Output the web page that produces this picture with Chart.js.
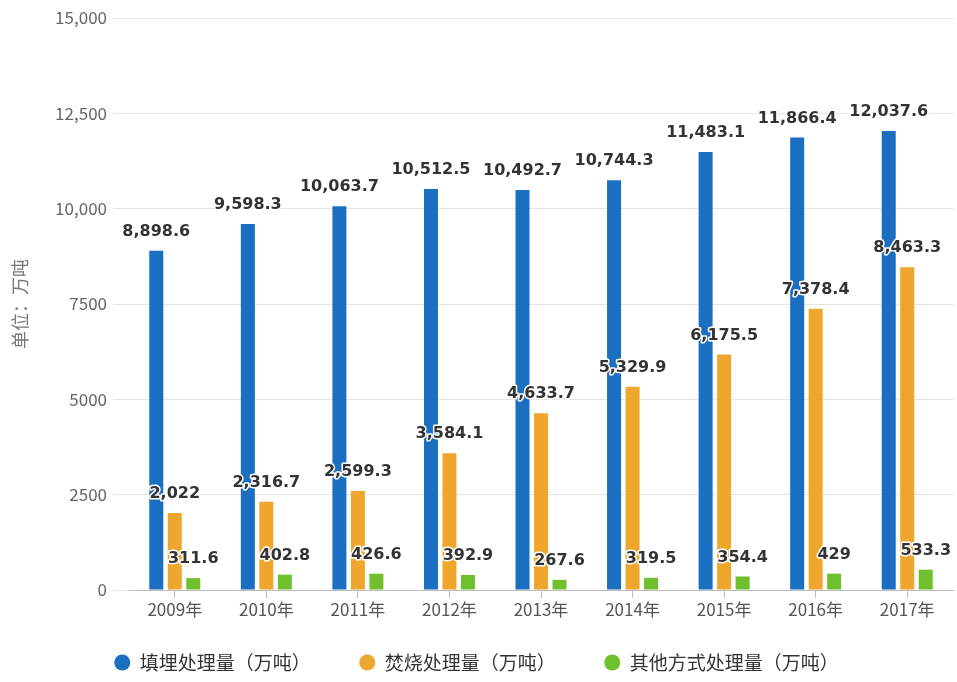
<!DOCTYPE html>
<html>
<head>
<meta charset="utf-8">
<script src="https://cdn.jsdelivr.net/npm/chart.js@4"></script>
<style>
  html, body { margin: 0; padding: 0; background: #fff; }
  #wrap { width: 957px; height: 682px; }
</style>
</head>
<body>
<div id="wrap"><canvas id="chart"></canvas></div>
<script>
// Data
const years = ['2009年', '2010年', '2011年', '2012年', '2013年', '2014年', '2015年', '2016年', '2017年'];
const landfill = [8898.6, 9598.3, 10063.7, 10512.5, 10492.7, 10744.3, 11483.1, 11866.4, 12037.6];
const incineration = [2022, 2316.7, 2599.3, 3584.1, 4633.7, 5329.9, 6175.5, 7378.4, 8463.3];
const otherWays = [311.6, 402.8, 426.6, 392.9, 267.6, 319.5, 354.4, 429, 533.3];
const seriesNames = ['填埋处理量（万吨）', '焚烧处理量（万吨）', '其他方式处理量（万吨）'];
const yTicks = [0, 2500, 5000, 7500, 10000, 12500, 15000];

const CJK = '"Noto Sans CJK SC", "Noto Sans", sans-serif';

// value labels above every bar, dark text with a white outline
const barLabels = {
    id: 'barLabels',
    afterDatasetsDraw(chart) {
        const ctx = chart.ctx;
        ctx.save();
        ctx.font = 'bold 16px "DejaVu Sans", Verdana, sans-serif';
        ctx.textAlign = 'center';
        ctx.textBaseline = 'middle';
        ctx.lineJoin = 'round';
        chart.data.datasets.forEach((ds, i) => {
            chart.getDatasetMeta(i).data.forEach((bar, j) => {
                const txt = ds.data[j].toLocaleString('en-US', { maximumFractionDigits: 1 });
                const y = bar.y - 19;
                ctx.strokeStyle = '#ffffff';
                ctx.lineWidth = 3;
                ctx.strokeText(txt, bar.x, y);
                ctx.fillStyle = '#333333';
                ctx.fillText(txt, bar.x, y);
            });
        });
        ctx.restore();
    }
};

new Chart(document.getElementById('chart'), {
    type: 'bar',
    data: {
        labels: years,
        datasets: [
            { label: seriesNames[0], data: landfill, backgroundColor: '#1b6fc0' },
            { label: seriesNames[1], data: incineration, backgroundColor: '#efa62d' },
            { label: seriesNames[2], data: otherWays, backgroundColor: '#70bf2d' }
        ]
    },
    options: {
        responsive: true,
        maintainAspectRatio: false,
        animation: false,
        layout: { padding: { top: 18, right: 4, bottom: 0, left: 0 } },
        datasets: {
            bar: { categoryPercentage: 0.606, barPercentage: 0.757, borderWidth: 0 }
        },
        plugins: {
            tooltip: { enabled: false },
            legend: {
                position: 'bottom',
                labels: {
                    usePointStyle: true,
                    pointStyle: 'circle',
                    boxHeight: 11.3,
                    pointStyleWidth: 16,
                    padding: 20,
                    color: '#333333',
                    font: { size: 19, family: CJK },
                    generateLabels(chart) {
                        const items = Chart.defaults.plugins.legend.labels.generateLabels(chart);
                        items.forEach((it, i) => {
                            if (i < items.length - 1) it.text += '\u3000\u3000';
                        });
                        return items;
                    }
                }
            }
        },
        scales: {
            x: {
                afterFit(scale) { scale.height = 43; },
                border: { display: true, color: '#bdbdbd' },
                grid: {
                    offset: false,
                    drawOnChartArea: false,
                    drawTicks: true,
                    tickLength: 8,
                    color: '#bdbdbd'
                },
                ticks: {
                    padding: 1,
                    color: '#555555',
                    font: { size: 17, family: CJK }
                }
            },
            y: {
                min: 0,
                max: 15000,
                afterFit(scale) { scale.width = 129; },
                afterBuildTicks(scale) { scale.ticks = yTicks.map(v => ({ value: v })); },
                border: { display: false },
                grid: { color: '#e3e3e3', tickLength: 16 },
                title: {
                    display: true,
                    text: '单位：万吨',
                    color: '#777777',
                    padding: { top: 9, bottom: 0 },
                    font: { size: 18, family: CJK }
                },
                ticks: {
                    padding: 6,
                    color: '#666666',
                    font: { size: 17, family: CJK },
                    callback(v) {
                        return v >= 10000 ? v.toLocaleString('en-US') : String(v);
                    }
                }
            }
        }
    },
    plugins: [barLabels]
});
</script>
</body>
</html>
